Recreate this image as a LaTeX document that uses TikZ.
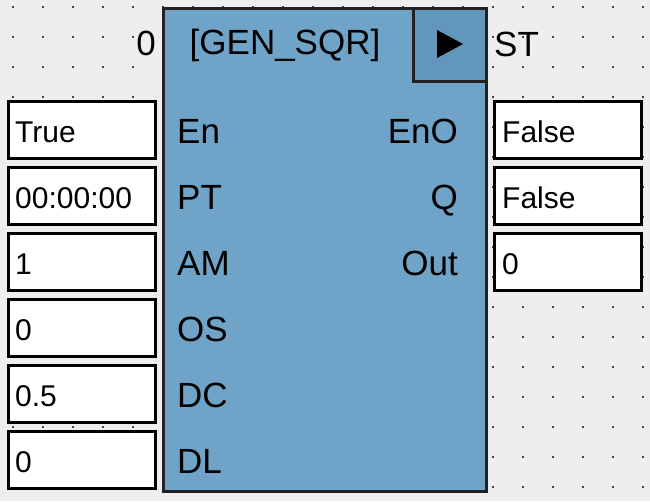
\documentclass[tikz,border=0pt]{standalone}
\usepackage{fontspec}
\setmainfont{Liberation Sans}
\definecolor{bgc}{RGB}{238,238,236}
\definecolor{blkfill}{RGB}{111,163,199}
\definecolor{headfill}{RGB}{99,150,187}
\definecolor{edgec}{RGB}{34,34,34}
\definecolor{dotc}{RGB}{70,70,70}
\begin{document}
\begin{tikzpicture}[x=1pt,y=-1pt,
  pinlbl/.style={inner sep=0pt,font=\fontsize{35}{40}\selectfont},
  vallbl/.style={inner sep=0pt,font=\fontsize{30}{36}\selectfont},
  valbox/.style={draw=black,line width=3pt,fill=white,minimum width=147pt,minimum height=57pt,inner sep=0pt,outer sep=0pt,anchor=north west},
]
\useasboundingbox (0,0) rectangle (650,501);
\fill[bgc] (0,0) rectangle (650,501);
% dot grid
\foreach \i in {0,...,21}{
  \foreach \j in {0,...,16}{
    \fill[dotc] ({13+30*\i-0.8},{7+30*\j-0.8}) rectangle ({13+30*\i+0.8},{7+30*\j+0.8});
  }
}
% main block
\node[draw=edgec,line width=3pt,fill=blkfill,minimum width=323pt,minimum height=483pt,inner sep=0pt,outer sep=0pt,anchor=north west] (blk) at (163.5,8.5) {};
\node[draw=edgec,line width=3pt,fill=headfill,minimum width=73pt,minimum height=73pt,inner sep=0pt,outer sep=0pt,anchor=north west] (run) at (413.5,8.5) {};
\fill[black] (437,30) -- (437,58) -- (463,44) -- cycle;
% header texts
\node[pinlbl,anchor=base] (title) at (285,54) {[GEN\_SQR]};
\node[pinlbl,anchor=base east] (zero) at (156,55) {0};
\node[pinlbl,anchor=base west] (st) at (494,56) {ST};
% input pins
\node[pinlbl,anchor=base west] (pEn) at (177,143) {En};
\node[pinlbl,anchor=base west] (pPT) at (177,209) {PT};
\node[pinlbl,anchor=base west] (pAM) at (177,275) {AM};
\node[pinlbl,anchor=base west] (pOS) at (177,341) {OS};
\node[pinlbl,anchor=base west] (pDC) at (177,407) {DC};
\node[pinlbl,anchor=base west] (pDL) at (177,473) {DL};
% output pins
\node[pinlbl,anchor=base east] (pEnO) at (458,143) {EnO};
\node[pinlbl,anchor=base east] (pQ) at (458,209) {Q};
\node[pinlbl,anchor=base east] (pOut) at (458,275) {Out};
% input value boxes
\foreach \n/\v [count=\k from 0] in {bEn/True,bPT/00:00:00,bAM/1,bOS/0,bDC/0.5,bDL/0}{
  \node[valbox] (\n) at (8.5,{101.5+66*\k}) {};
  \node[vallbl,anchor=base west] (\n t) at (15,{142+66*\k}) {\v};
}
% output value boxes
\foreach \n/\v [count=\k from 0] in {bEnO/False,bQ/False,bOut/0}{
  \node[valbox] (\n) at (494.5,{101.5+66*\k}) {};
  \node[vallbl,anchor=base west] (\n t) at (502,{142+66*\k}) {\v};
}
\end{tikzpicture}
\end{document}
